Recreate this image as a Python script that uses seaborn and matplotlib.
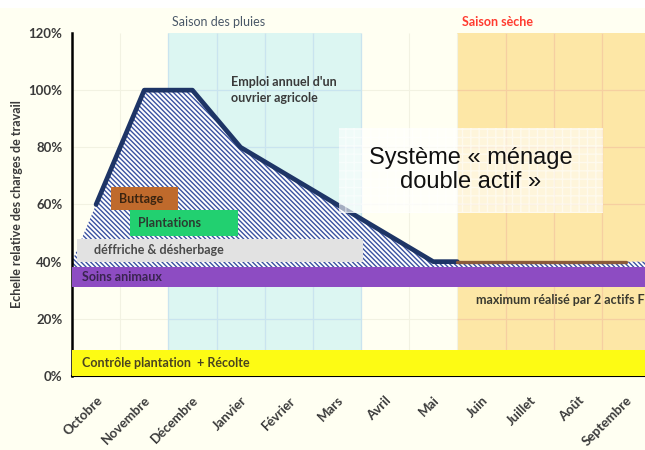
import numpy as np
import pandas as pd
import matplotlib
matplotlib.use("Agg")
import matplotlib.pyplot as plt
from matplotlib.patches import Rectangle
import seaborn as sns

# mois de l'annee agricole (octobre -> septembre)
mois = ['Octobre', 'Novembre', 'Décembre', 'Janvier', 'Février', 'Mars',
        'Avril', 'Mai', 'Juin', 'Juillet', 'Août', 'Septembre']
# charge de travail relative (%) - emploi annuel d'un ouvrier agricole
charge = [60, 100, 100, 80, 70, 60, 50, 40, 40, 40, 40, 40]

# activites : debut, fin (en mois), bas, haut (en %)
taches = ['Contrôle plantation  + Récolte', 'Soins animaux', 'déffriche & désherbage',
          'Plantations', 'Buttage']
t_debut = [0.0, 0.0, 0.1, 1.2, 0.8]
t_fin = [12.0, 12.0, 6.05, 3.45, 2.2]
t_bas = [0, 31, 40, 49, 58]
t_haut = [9, 38, 48, 58, 66]
t_couleur = ['#fdfb14', '#8d4cc2', '#e2e2e2', '#22d070', '#bf6a2c']
t_texte = ['#4a4420', '#3a2450', '#4a4a4a', '#2b3a30', '#3a2410']

# saisons
pluies = (2, 6)
seche = (8, 12)

cream = '#fffff2'
sns.set_style("white")
plt.rcParams['font.family'] = ['Lato', 'DejaVu Sans']
plt.rcParams['hatch.linewidth'] = 1.0

fig = plt.figure(figsize=(6.45, 4.5), dpi=100, facecolor=cream)
fig.patches.append(Rectangle((0, 442 / 450), 1, 8 / 450, transform=fig.transFigure,
                             facecolor='white', edgecolor='none', zorder=0))
ax = fig.add_axes([72 / 645, 74 / 450, 578 / 645, 343 / 450])
ax.set_facecolor(cream)

x_mois = np.arange(len(mois)) + 0.5
yt = np.arange(0, 121, 20)

# fonds des saisons
ax.axvspan(*pluies, color='#dcf6f2', zorder=0, lw=0)
ax.axvspan(seche[0], seche[1], color='#fde7a6', zorder=0, lw=0)
ax.vlines(np.arange(1, 12), 0, 120, color='#f2f2e2', lw=0.8, zorder=0.5)
ax.hlines(yt[1:-1], 0, 12, color='#f2f2e2', lw=0.8, zorder=0.5)
ax.vlines(np.arange(pluies[0], pluies[1] + 1), 0, 120, color='#c9e4ef', lw=0.9, zorder=0.6)
ax.hlines(yt[1:-1], pluies[0], pluies[1], color='#c9e4ef', lw=0.9, zorder=0.6)
ax.vlines(np.arange(seche[0] + 1, seche[1]), 0, 120, color='#f6cfa0', lw=0.9, zorder=0.6)
ax.hlines(yt[1:-1], seche[0], seche[1], color='#f6cfa0', lw=0.9, zorder=0.6)

# surface hachuree sous la courbe
xf = np.concatenate([[0], x_mois, [12]])
yf = np.concatenate([[charge[-1]], charge, [charge[-1]]])
ax.fill_between(xf, 38, yf, facecolor='white', edgecolor='#3a52a0',
                hatch='\\\\\\\\\\\\\\', lw=0, zorder=1)

# courbe
df = pd.DataFrame({'x': list(x_mois[:8]) + [seche[0]], 'y': charge[:8] + [charge[7]]})
sns.lineplot(data=df, x='x', y='y', color='#1e3566', lw=3.4, ax=ax, zorder=3)
df2 = pd.DataFrame({'x': [seche[0]] + list(x_mois[8:]), 'y': [charge[7]] + charge[8:]})
sns.lineplot(data=df2, x='x', y='y', color='#8a5a3a', lw=2.4, ax=ax, zorder=3)

# activites
ax.barh([(b + h) / 2 for b, h in zip(t_bas, t_haut)],
        [f - d for d, f in zip(t_debut, t_fin)], left=t_debut,
        height=[h - b for b, h in zip(t_bas, t_haut)],
        color=t_couleur, lw=0, zorder=4)
pads = [0.2, 0.2, 0.35, 0.18, 0.18]
for i, t in enumerate(taches):
    ax.text(t_debut[i] + pads[i], (t_bas[i] + t_haut[i]) / 2, t, fontsize=9,
            fontweight='bold', color=t_texte[i], va='center', ha='left', zorder=5)

ax.text(3.3, 100, "Emploi annuel d'un\nouvrier agricole", fontsize=9, fontweight='bold',
        color='#3a3a3a', va='center', ha='left', linespacing=1.45, zorder=5)
ax.text(8.38, 26.5, "maximum réalisé par 2 actifs F", fontsize=9, fontweight='bold',
        color='#3a3a30', va='center', ha='left', zorder=5)

ax.text(pluies[0] + 0.08, 124, "Saison des pluies", fontsize=9, color='#4a5868',
        va='center', ha='left', clip_on=False)
ax.text(seche[0] + 0.1, 124, "Saison sèche", fontsize=9, color='#ff3b30',
        fontweight='bold', va='center', ha='left', clip_on=False)

# encadre
ax.add_patch(Rectangle((5.54, 57), 5.48, 29.8, facecolor='white', alpha=0.6,
                       edgecolor='none', zorder=8))
ax.add_patch(Rectangle((5.54, 57), 5.48, 29.8, facecolor='none', alpha=0.5,
                       edgecolor='white', hatch='++', lw=0, zorder=8))
ax.text(8.28, 72, "Système « ménage\ndouble actif »", fontsize=17, color='#111111',
        family=['Liberation Sans', 'DejaVu Sans'], ha='center', va='center',
        linespacing=1.1, zorder=9)

# axes
ax.set_xlim(0, 12)
ax.set_ylim(0, 120)
ax.set_xticks(np.arange(13))
ax.set_xticklabels([])
ax.set_xticks(x_mois, minor=True)
ax.set_xticklabels(mois, minor=True, rotation=45, ha='right', rotation_mode='anchor',
                   fontsize=9.5, fontweight='bold', color='#3a3a3a')
ax.tick_params(axis='x', which='minor', length=0, pad=13)
ax.tick_params(axis='x', which='major', length=4, width=1.3, color='black', direction='out')
ax.set_yticks(yt)
ax.set_yticklabels([f'{v}%' for v in yt], fontsize=9.5, fontweight='bold', color='#3a3a3a')
ax.tick_params(axis='y', length=4, width=1.3, color='black', direction='out', pad=3)
ax.set_xlabel('')
ax.set_ylabel('Echelle relative des charges de travail', fontsize=9, fontweight='bold',
              color='#3a3a3a', labelpad=4)
for s in ['top', 'right']:
    ax.spines[s].set_visible(False)
ax.spines['left'].set_linewidth(1.8)
ax.spines['left'].set_color('black')
ax.spines['bottom'].set_linewidth(1.5)
ax.spines['bottom'].set_color('black')
ax.grid(False)

fig.savefig('out.png', dpi=100, facecolor=cream)
